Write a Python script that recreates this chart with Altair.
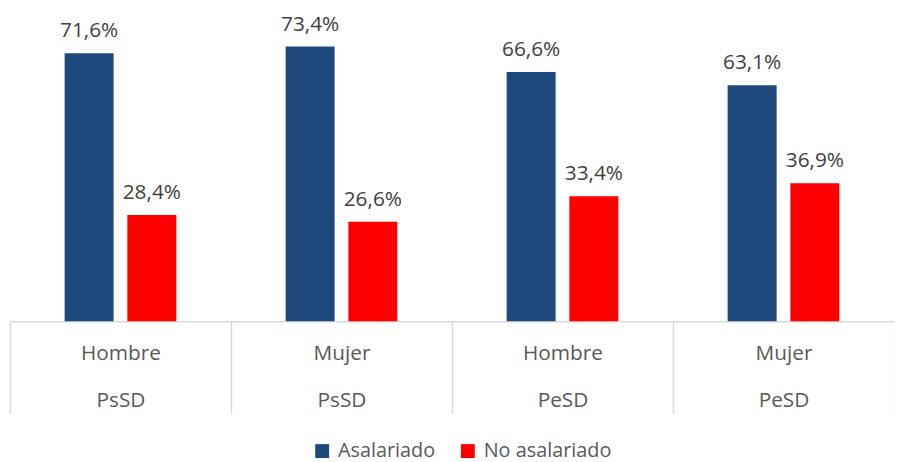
import altair as alt
import pandas as pd

sexos = ["Hombre", "Mujer", "Hombre", "Mujer"]
tipos = ["PsSD", "PsSD", "PeSD", "PeSD"]
series = ["Asalariado", "No asalariado"]
asalariado = [71.6, 73.4, 66.6, 63.1]
no_asalariado = [28.4, 26.6, 33.4, 36.9]
colores = ["#1F497D", "#FF0000"]

grupos = [f"{s}|{t}" for s, t in zip(sexos, tipos)]
rows = []
for g, a, n in zip(grupos, asalariado, no_asalariado):
    for serie, v in zip(series, (a, n)):
        rows.append({"grupo": g, "serie": serie, "valor": v,
                     "etiqueta": f"{v:.1f}%".replace(".", ",")})
df = pd.DataFrame(rows)

base = alt.Chart(df).encode(
    x=alt.X("grupo:N", sort=grupos, title=None,
            scale=alt.Scale(paddingInner=0, paddingOuter=0),
            axis=alt.Axis(labelAngle=0, labelExpr="split(datum.label, '|')",
                          labelFontSize=21, labelColor="#595959", labelFont="Open Sans",
                          labelLineHeight=47, labelPadding=-71, labelBaseline="top",
                          tickBand="extent", tickSize=93, tickColor="#d9d9d9", tickWidth=1.5,
                          domainColor="#d9d9d9", domainWidth=1.5)),
    xOffset=alt.XOffset("serie:N", sort=series,
                        scale=alt.Scale(paddingInner=0.219, paddingOuter=0.871)),
    y=alt.Y("valor:Q", scale=alt.Scale(domain=[0, 80]), axis=None),
)

bars = base.mark_bar().encode(
    color=alt.Color("serie:N", sort=series,
                    scale=alt.Scale(domain=series, range=colores),
                    legend=alt.Legend(title=None, orient="none", direction="horizontal",
                                      legendX=305, legendY=423, symbolType="square",
                                      symbolSize=196, symbolStrokeWidth=0,
                                      labelFontSize=20, labelFont="Open Sans",
                                      labelColor="#595959", labelOffset=6,
                                      columnPadding=22)),
)

labels = base.mark_text(dy=-16, baseline="alphabetic", fontSize=21,
                        font="Open Sans", color="#404040").encode(text="etiqueta:N")

chart = alt.layer(bars, labels).properties(
    width=892, height=302,
    padding={"left": 2, "top": 12, "right": 0, "bottom": 140},
    autosize=alt.AutoSizeParams(type="none"),
).configure_view(stroke=None)

chart.save("out.html", embed_options={"renderer": "svg", "actions": False})
